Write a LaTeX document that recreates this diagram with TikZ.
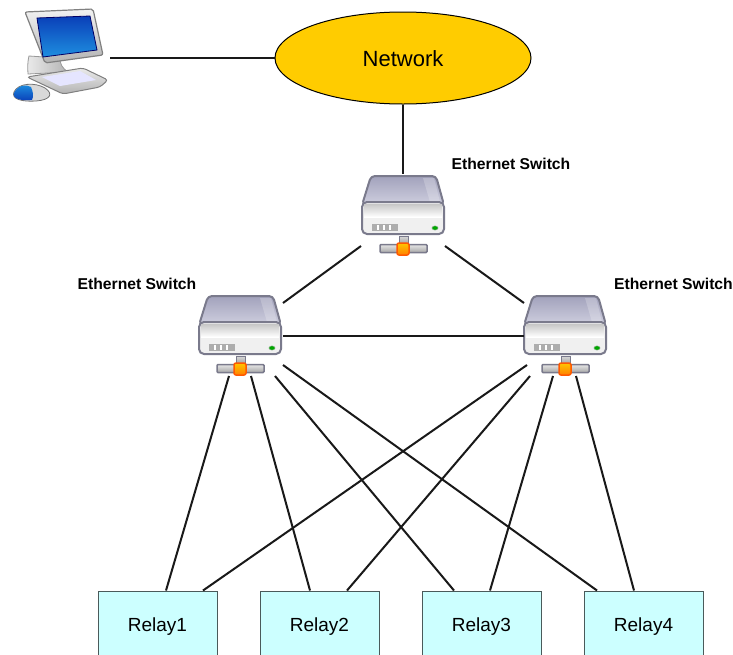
\documentclass[tikz,border=0pt]{standalone}
\usepackage{fontspec}
\setmainfont{Liberation Sans}
\usetikzlibrary{calc,shapes.geometric}
\definecolor{relayfill}{HTML}{CCFFFF}
\definecolor{relayedge}{HTML}{4A5A5A}
\definecolor{netfill}{HTML}{FFCC00}
\definecolor{panelA}{HTML}{A2A2BC}
\definecolor{panelB}{HTML}{CFCFDF}
\definecolor{swedge}{HTML}{7A7A8C}
\definecolor{screenA}{HTML}{0A3FB8}
\definecolor{screenB}{HTML}{1E8FE0}
\newcommand{\lowered}[2]{\raisebox{-#1pt}[0pt][0pt]{#2}}
\tikzset{
  link/.style={line width=2pt,draw=black!90},
  relaybox/.style={draw=relayedge,line width=1pt,fill=relayfill,minimum width=119pt,minimum height=66pt,inner sep=0pt,font=\fontsize{19}{20}\selectfont},
  netcloud/.style={ellipse,draw=black,line width=1pt,fill=netfill,minimum width=256pt,minimum height=92pt,inner sep=0pt,font=\fontsize{22}{24}\selectfont},
  swlabel/.style={inner sep=0pt,font=\bfseries\fontsize{15.7}{16}\selectfont},
  swholder/.style={minimum width=84pt,minimum height=80pt,inner sep=0pt},
  pics/switchicon/.style={code={
    % top panel
    \path[draw=swedge,line width=2pt,line join=round,rounded corners=4pt,top color=panelA,bottom color=panelB]
      (-32,-29) -- (33,-29) -- (41,0) -- (-41,0) -- cycle;
    \path[fill=white,opacity=.22] (20,-27) -- (31,-27) -- (37,-3) -- (27,-3) -- cycle;
    % front panel
    \path[draw=swedge,line width=2pt,rounded corners=5pt,fill=black!6]
      (-41,-3) -- (41,-3) -- (41,29) -- (-41,29) -- cycle;
    \path[top color=black!22,bottom color=white] (-39,-1) rectangle (39,12);
    \path[fill=black!32] (-31,19) rectangle (-5,26);
    \foreach \k in {-26,-20,-14}{\path[fill=white] (\k,20) rectangle (\k+1.5,25);}
    \path[fill=green!65!black,draw=black!25,line width=.4pt] (32,23) ellipse (3.2pt and 2.2pt);
    % stem, bar and port
    \path[draw=swedge,line width=1pt,top color=black!15,bottom color=black!40] (-4,31) rectangle (5,40);
    \path[draw=swedge,line width=1.5pt,rounded corners=1pt,top color=black!10,bottom color=black!35] (-23,39.5) rectangle (24,47.5);
    \path[draw=orange!70!red,line width=1.5pt,rounded corners=2pt,top color=yellow!55!orange,bottom color=orange] (-6,38) rectangle (6,50);
  }},
}
\begin{document}
\begin{tikzpicture}[x=1pt,y=-1pt]
\clip (0,0) rectangle (733,654);
\fill[white] (0,0) rectangle (733,654);
% computer icon
\node[minimum width=108pt,minimum height=95pt,inner sep=0pt] (pc) at (56,54) {};
\coordinate (pcport) at (110,58);
\path[draw=black!40,line width=.8pt,left color=black!8,right color=black!30] (29,56) .. controls (27,64) and (28,72) .. (28,74) -- (68,72) .. controls (62,68) and (60,64) .. (60,58) -- cycle;
\path[draw=black!50,line width=1pt,rounded corners=3pt,top color=black!8,bottom color=black!30] (27,77) -- (83,68) -- (108,80) -- (100,87) -- (63,94) -- cycle;
\path[fill=blue!10!white] (42,77) -- (80,71) -- (96,80) -- (60,86) -- cycle;
\path[draw=black!50,line width=1.2pt,rounded corners=2pt,top color=black!5,bottom color=black!30] (25,12) -- (93,9) -- (103,55) -- (45,63) -- cycle;
\path[top color=screenA,bottom color=screenB,draw=black!60!blue,line width=.8pt] (37,18) -- (90,16) -- (97,50) -- (43,57) -- cycle;
\path[draw=black!55,line width=.8pt,fill=black!15] (14,92) .. controls (18,83) and (35,82) .. (45,88) .. controls (54,94) and (50,100) .. (36,101) .. controls (22,102) and (11,99) .. (14,92) -- cycle;
\path[top color=screenB,bottom color=screenA] (14,93) .. controls (18,85) and (26,84) .. (31,87) .. controls (33,92) and (34,96) .. (32,100) .. controls (22,101) and (12,99) .. (14,93) -- cycle;
% main nodes
\node[netcloud] (net) at (403,58) {\lowered{8.8}{Network}};
\node[swholder] (swT) at (403,205) {};
\node[swholder] (swL) at (240,325) {};
\node[swholder] (swR) at (565,325) {};
\pic at (swT) {switchicon};
\pic at (swL) {switchicon};
\pic at (swR) {switchicon};
\node[swlabel] (labT) at (511,164) {Ethernet Switch};
\node[swlabel] (labL) at (137,284) {Ethernet Switch};
\node[swlabel] (labR) at (673.5,284) {Ethernet Switch};
\node[relaybox] (r1) at (157.5,624) {\lowered{7}{Relay1}};
\node[relaybox] (r2) at (319.5,624) {\lowered{7}{Relay2}};
\node[relaybox] (r3) at (481.5,624) {\lowered{7}{Relay3}};
\node[relaybox] (r4) at (643.5,624) {\lowered{7}{Relay4}};
% connectors
\draw[link] (pcport) -- (net.west);
\draw[link] (net.south) -- ($(swT)+(0,-31)$);
\draw[link] ($(swT)+(-42,41)$) -- ($(swL)+(43,-22)$);
\draw[link] ($(swT)+(42,41)$) -- ($(swR)+(-41,-22)$);
\draw[link] ($(swL)+(43,11)$) -- ($(swR)+(-41,11)$);
\draw[link] ($(swL)+(-11,51)$) -- ($(r1.north)+(8.5,0)$);
\draw[link] ($(swL)+(11,51)$) -- ($(r2.north)+(-9.5,0)$);
\draw[link] ($(swL)+(35,51)$) -- ($(r3.north)+(-27.5,0)$);
\draw[link] ($(swL)+(43,40)$) -- ($(r4.north)+(-46.5,0)$);
\draw[link] ($(swR)+(-38,40)$) -- ($(r1.north)+(45.5,0)$);
\draw[link] ($(swR)+(-35,51)$) -- ($(r2.north)+(27.5,0)$);
\draw[link] ($(swR)+(-12,51)$) -- ($(r3.north)+(8.5,0)$);
\draw[link] ($(swR)+(11,51)$) -- ($(r4.north)+(-9.5,0)$);
\end{tikzpicture}
\end{document}
